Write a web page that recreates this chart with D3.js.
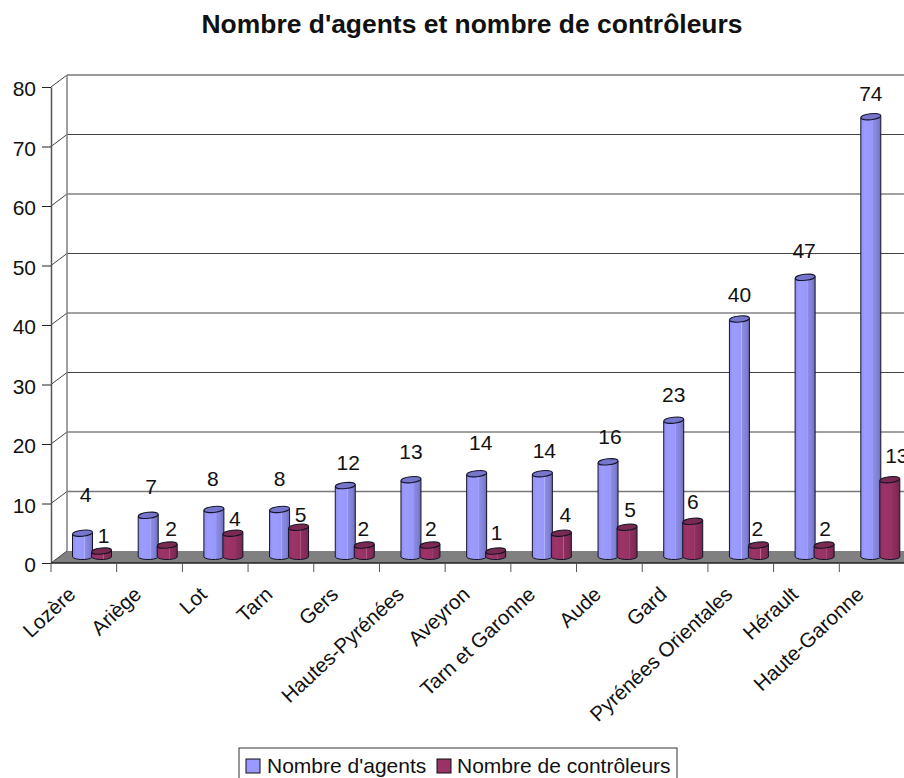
<html>
<head>
<meta charset="utf-8">
<script src="https://d3js.org/d3.v7.min.js"></script>
<style>
    body, html { margin: 0; padding: 0; background: white; }
    svg { display: block; font-family: "Liberation Sans", Arial, sans-serif; }
</style>
</head>
<body>
<div id="my_dataviz"></div>
<script>
var departements = ["Lozère", "Ariège", "Lot", "Tarn", "Gers", "Hautes-Pyrénées", "Aveyron",
    "Tarn et Garonne", "Aude", "Gard", "Pyrénées Orientales", "Hérault", "Haute-Garonne"];
var agents = [4, 7, 8, 8, 12, 13, 14, 14, 16, 23, 40, 47, 74];
var controleurs = [1, 2, 4, 5, 2, 2, 1, 4, 5, 6, 2, 2, 13];
var yTicks = [0, 10, 20, 30, 40, 50, 60, 70, 80];

// value labels sit unevenly in the original: gap above the bar top, and sideways shift
var agentsGap = [31, 21, 23, 23, 16, 21, 24, 16, 18, 18, 17, 19, 16];
var agentsShift = [3, 3, -1, 0, 3, 0, 4, 2, 2, 0, 0, -1, 0];
var controleursGap = [8, 9, 7, 5, 9, 9, 11, 11, 10, 12, 9, 9, 17];
var controleursShift = [2, 4, 2, 2, -1, 1, 1, 4, 3, 0, -1, 1, 7];

var w = 904, h = 778;
var depthX = 16, depthY = 12;   // 3d offset of the back wall
var barDrop = 6;                // bars stand in the middle of the floor

var svg = d3.select("#my_dataviz").append("svg")
    .attr("width", w)
    .attr("height", h);

var x = d3.scaleBand().domain(departements).range([51, 905]);
var inner = d3.scaleBand().domain(["agents", "controleurs"]).range([22, 60]);
var y = d3.scaleLinear().domain([0, 80]).range([563, 87]);

svg.append("text")
    .attr("x", 472).attr("y", 33)
    .attr("text-anchor", "middle")
    .attr("font-size", 26).attr("font-weight", "bold")
    .attr("fill", "#111")
    .attr("textLength", 541).attr("lengthAdjust", "spacingAndGlyphs")
    .text("Nombre d'agents et nombre de contrôleurs");

// cylinder shading
function addGradient(id, stops) {
    var g = svg.append("defs").append("linearGradient").attr("id", id);
    stops.forEach(function (s) {
        g.append("stop").attr("offset", s[0]).attr("stop-color", s[1]);
    });
}
addGradient("blueCyl", [[0, "#9090f0"], [0.2, "#9c9cff"], [0.58, "#9898fc"], [0.6, "#b4b4ff"], [0.63, "#8c8ce8"], [0.85, "#8080d4"], [1, "#6a6ab0"]]);
addGradient("redCyl", [[0, "#8e2f5e"], [0.2, "#9c3468"], [0.58, "#963264"], [0.6, "#b8668e"], [0.63, "#8e2f5e"], [0.85, "#832b57"], [1, "#6e2649"]]);

// floor
var x0 = x.range()[0], x1 = x.range()[1];
svg.append("path")
    .attr("d", d3.line()([[x0, y(0)], [x0 + depthX, y(0) - depthY], [w, y(0) - depthY], [w, y(0)], [x0, y(0)]]))
    .attr("fill", "#808080");

// back wall grid and side wall lines
yTicks.forEach(function (t) {
    if (t > 0) {
        svg.append("line")
            .attr("x1", x0 + depthX).attr("x2", w)
            .attr("y1", y(t) - depthY).attr("y2", y(t) - depthY)
            .attr("stroke", (t == 80 || t == 10) ? "#777" : "#444")
            .attr("stroke-width", (t == 80 || t == 10) ? 1.5 : 1);
    }
    svg.append("line")
        .attr("x1", x0).attr("x2", x0 + depthX)
        .attr("y1", y(t)).attr("y2", y(t) - depthY)
        .attr("stroke", "#444");
});
svg.append("line")
    .attr("x1", x0 + depthX).attr("x2", x0 + depthX)
    .attr("y1", y(0) - depthY).attr("y2", y(80) - depthY)
    .attr("stroke", "#808080").attr("stroke-width", 1.5);

// y axis
var yAxis = svg.append("g")
    .attr("transform", "translate(" + x0 + ",0)")
    .call(d3.axisLeft(y).tickValues(yTicks).tickSize(9).tickPadding(6).tickSizeOuter(0));
yAxis.select(".domain").attr("stroke", "#555").attr("stroke-width", 1.5);
yAxis.selectAll("line").attr("stroke", "#222");
yAxis.selectAll("text")
    .attr("font-size", 21)
    .attr("font-family", "Liberation Sans")
    .attr("fill", "#111")
    .attr("dy", "0.42em");

// x axis
svg.append("line")
    .attr("x1", x0).attr("x2", w)
    .attr("y1", y(0)).attr("y2", y(0))
    .attr("stroke", "#222").attr("stroke-width", 1.5);
svg.selectAll(".xtick").data(departements).enter().append("line")
    .attr("x1", function (d) { return x(d); })
    .attr("x2", function (d) { return x(d); })
    .attr("y1", y(0))
    .attr("y2", y(0) + 9)
    .attr("stroke", "#555");
svg.selectAll(".xlabel").data(departements).enter().append("text")
    .attr("text-anchor", "end")
    .attr("font-size", 20.5)
    .attr("fill", "#111")
    .attr("transform", function (d) {
        return "translate(" + (x(d) + x.bandwidth() / 2 - 7) + "," + (y(0) + 33) + ") rotate(-43)";
    })
    .text(function (d) { return d; });

// cylinders
function drawBars(values, key, grad, cap, gap, shift) {
    var rx = inner.bandwidth() / 2 + 0.5, ry = 3;
    var g = svg.append("g");
    var bar = g.selectAll("g").data(values).enter().append("g");
    function cx(d, i) { return x(departements[i]) + inner(key) + inner.bandwidth() / 2; }
    function top(d) { return y(d) - barDrop; }
    var base = y(0) - barDrop;
    bar.append("path")
        .attr("d", function (d, i) {
            var c = cx(d, i);
            return "M" + (c - rx) + "," + (top(d) + 1) + "L" + (c - rx) + "," + base +
                "A" + rx + "," + ry + " 0 0 0 " + (c + rx) + "," + (base - 1) +
                "L" + (c + rx) + "," + (top(d) - 1) + "Z";
        })
        .attr("fill", "url(#" + grad + ")")
        .attr("stroke", "#141428").attr("stroke-width", 1);
    bar.append("ellipse")
        .attr("rx", rx).attr("ry", ry)
        .attr("transform", function (d, i) {
            return "translate(" + cx(d, i) + "," + top(d) + ") rotate(-6)";
        })
        .attr("fill", cap)
        .attr("stroke", "#141428").attr("stroke-width", 1);
    svg.append("g").selectAll("text").data(values).enter().append("text")
        .attr("x", function (d, i) { return cx(d, i) + shift[i]; })
        .attr("y", function (d, i) { return top(d) - gap[i]; })
        .attr("text-anchor", "middle")
        .attr("font-size", 21)
        .attr("fill", "#111")
        .text(function (d) { return d; });
}
drawBars(agents, "agents", "blueCyl", "#7676cc", agentsGap, agentsShift);
drawBars(controleurs, "controleurs", "redCyl", "#7a2950", controleursGap, controleursShift);

// legend
var legend = svg.append("g").attr("transform", "translate(239,748)");
legend.append("rect").attr("width", 438).attr("height", 32).attr("fill", "white").attr("stroke", "#333");
var series = [["Nombre d'agents", "#9999ff", 7, 28], ["Nombre de contrôleurs", "#993366", 198, 218]];
series.forEach(function (s) {
    legend.append("rect").attr("x", s[2]).attr("y", 11).attr("width", 14).attr("height", 14)
        .attr("fill", s[1]).attr("stroke", "#111");
    legend.append("text").attr("x", s[3]).attr("y", 25).attr("font-size", 21).attr("fill", "#111").text(s[0]);
});
</script>
</body>
</html>
